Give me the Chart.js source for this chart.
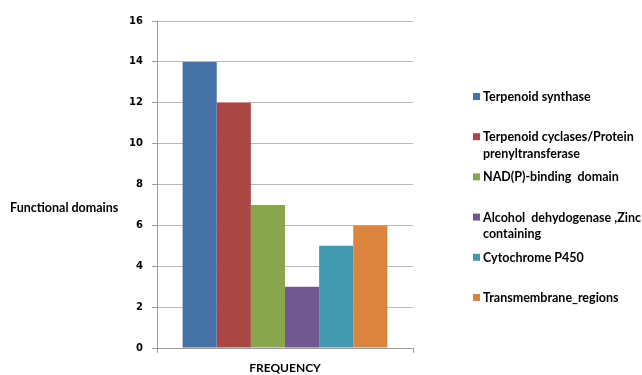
<!DOCTYPE html>
<html>
<head>
<meta charset="utf-8">
<script src="https://cdn.jsdelivr.net/npm/chart.js@4/dist/chart.umd.min.js"></script>
<style>
  html, body { margin: 0; padding: 0; background: #ffffff; }
  canvas { display: block; }
</style>
</head>
<body>
<canvas id="chart" width="642" height="375"></canvas>
<script>
// Category on the x axis (one group of bars)
const categories = ['FREQUENCY'];

// Domain names, each given as the lines shown in the legend
const domainLines = [
  ['Terpenoid synthase'],
  ['Terpenoid cyclases/Protein', 'prenyltransferase'],
  ['NAD(P)-binding  domain'],
  ['Alcohol  dehydogenase ,Zinc', 'containing'],
  ['Cytochrome P450'],
  ['Transmembrane_regions']
];

// Count of each domain
const frequencies = [14, 12, 7, 3, 5, 6];

const barColors = ['#4572A7', '#AA4643', '#89A54E', '#71588F', '#4198AF', '#DB843D'];

// Value axis settings
const yMin = 0;
const yMax = 16;
const yStep = 2;

const yTitle = 'Functional domains';

const datasets = domainLines.map((lines, i) => ({
  label: lines.join(' '),
  legendLines: lines,
  data: [frequencies[i]],
  backgroundColor: barColors[i],
  borderWidth: 0,
  barPercentage: 1.0,
  categoryPercentage: 0.8
}));

const gridGray = '#b9b9b9';
const axisGray = '#9a9a9a';
const labelFont = 'Lato, "Open Sans", sans-serif';

// Side legend and horizontal value-axis title
const sideText = {
  id: 'sideText',
  afterDraw(chart) {
    const ctx = chart.ctx;
    ctx.save();
    ctx.fillStyle = '#000000';
    ctx.textBaseline = 'middle';
    ctx.textAlign = 'left';
    ctx.font = 'bold 12.5px ' + labelFont;
    ctx.fillText(yTitle, 10, 208);

    const x0 = 473;
    const yTop = 97;
    const slot = 40.2;
    const lineGap = 16.5;
    ctx.font = 'bold 12.5px ' + labelFont;
    chart.data.datasets.forEach((ds, i) => {
      const y = yTop + i * slot;
      ctx.fillStyle = ds.backgroundColor;
      ctx.fillRect(x0, y - 4, 7, 7);
      ctx.fillStyle = '#000000';
      ds.legendLines.forEach((line, j) => {
        ctx.fillText(line, x0 + 10, y + j * lineGap);
      });
    });
    ctx.restore();
  }
};

new Chart(document.getElementById('chart'), {
  type: 'bar',
  data: { labels: categories, datasets },
  options: {
    responsive: false,
    animation: false,
    devicePixelRatio: 1,
    layout: { padding: { left: 0, right: 229, top: 21, bottom: 0 } },
    plugins: {
      legend: { display: false },
      tooltip: { enabled: false }
    },
    scales: {
      x: {
        grid: {
          offset: true,
          drawOnChartArea: false,
          tickLength: 5,
          color: axisGray
        },
        border: { display: true, color: axisGray },
        ticks: {
          color: '#000000',
          padding: 8,
          font: { family: labelFont, size: 12, weight: 'bold' }
        },
        afterFit(scale) { scale.height = 27; }
      },
      y: {
        min: yMin,
        max: yMax,
        ticks: {
          stepSize: yStep,
          color: '#000000',
          padding: 9,
          font: { family: '"DejaVu Sans", Verdana, sans-serif', size: 10, weight: 'bold' }
        },
        grid: { color: gridGray, tickLength: 5, tickColor: axisGray },
        border: { display: true, color: axisGray },
        afterFit(scale) { scale.width = 157; }
      }
    }
  },
  plugins: [sideText]
});
</script>
</body>
</html>
